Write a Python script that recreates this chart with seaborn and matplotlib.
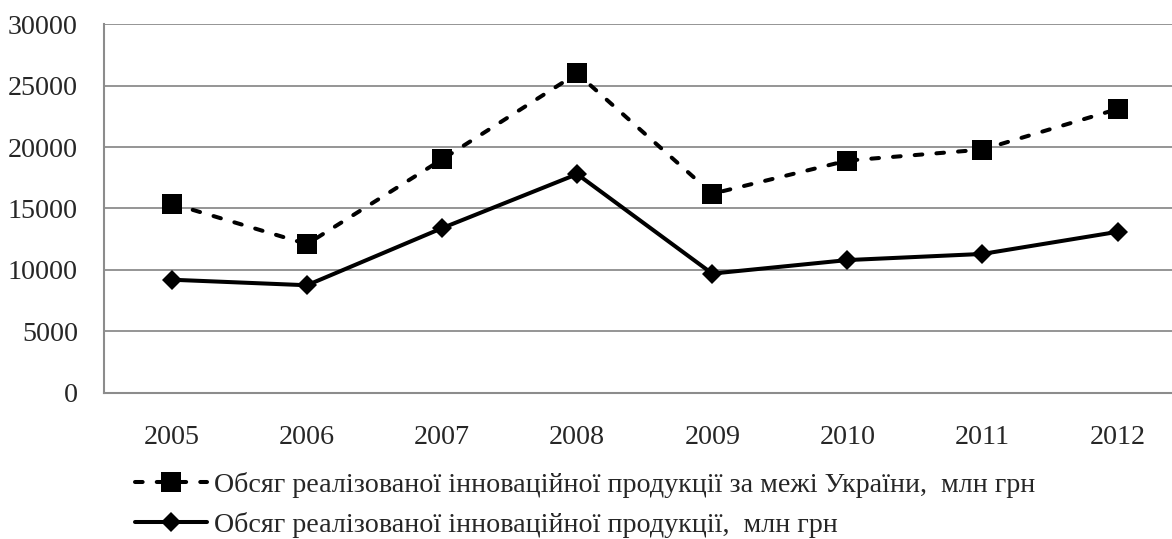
import matplotlib
matplotlib.use("Agg")
import matplotlib.pyplot as plt
import numpy as np
import seaborn as sns

# data
years = ["2005", "2006", "2007", "2008", "2009", "2010", "2011", "2012"]
export_vals = [15400, 12100, 19000, 26000, 16200, 18900, 19800, 23100]
total_vals = [9200, 8750, 13400, 17800, 9700, 10800, 11300, 13100]
export_label = "Обсяг реалізованої інноваційної продукції за межі України,"
total_label = "Обсяг реалізованої інноваційної продукції,"
unit_label = "млн грн"
y_ticks = [0, 5000, 10000, 15000, 20000, 25000, 30000]

sns.set_style("white")
plt.rcParams["font.family"] = ["Liberation Serif", "DejaVu Serif"]

grey = "#8c8c8c"
fs = 20.2

fig = plt.figure(figsize=(11.72, 5.39), dpi=100)
# axes box runs a little past the right edge, as in the reference crop
ax = fig.add_axes([104.3 / 1172, 1 - 392.7 / 539, 8 * 135.1 / 1172, (392.7 - 24.3) / 539])

sns.lineplot(x=years, y=export_vals, ax=ax, color="black", linewidth=2.9,
             linestyle=(0, (1.9, 3.5)), dash_capstyle="round", marker="s",
             markersize=13.7, markeredgecolor="black", markeredgewidth=0,
             label=export_label + "  " + unit_label, sort=False, zorder=3)
sns.lineplot(x=years, y=total_vals, ax=ax, color="black", linewidth=2.9,
             marker="D", markersize=9.8, markeredgecolor="black",
             markeredgewidth=0, label=total_label + "  " + unit_label,
             sort=False, zorder=3)

handles, labels = ax.get_legend_handles_labels()
if ax.get_legend() is not None:
    ax.get_legend().remove()

# axes styling
ax.set_xlim(-0.5, 7.5)
ax.set_ylim(0, 30000)
ax.set_yticks(y_ticks)
ax.set_yticklabels([str(v) for v in y_ticks], fontsize=fs)
ax.set_xticks(range(len(years)))
ax.set_xticklabels(years, fontsize=fs)
ax.set_xticks(np.arange(-0.5, len(years)), minor=True)
ax.tick_params(axis="x", which="major", length=0, pad=23)
ax.tick_params(axis="x", which="minor", length=7, width=1.3, color=grey)
ax.tick_params(axis="y", length=7, width=1.3, color=grey, pad=12)
ax.set_xlabel("")
ax.set_ylabel("")

ax.grid(axis="y", color=grey, linewidth=1.3)
ax.grid(axis="x", visible=False)
ax.set_axisbelow(True)
for side in ["top", "right"]:
    ax.spines[side].set_visible(False)
for side in ["left", "bottom"]:
    ax.spines[side].set_color(grey)
    ax.spines[side].set_linewidth(1.5)
ax.spines["bottom"].set_zorder(2.5)

fig.legend(handles, labels, loc="upper left",
           bbox_to_anchor=(135 / 1172, 1 - 472 / 539),
           frameon=False, fontsize=fs, handlelength=2.55,
           handletextpad=0.25, labelspacing=0.5,
           borderpad=0, borderaxespad=0)

fig.savefig("out.png", dpi=100)
